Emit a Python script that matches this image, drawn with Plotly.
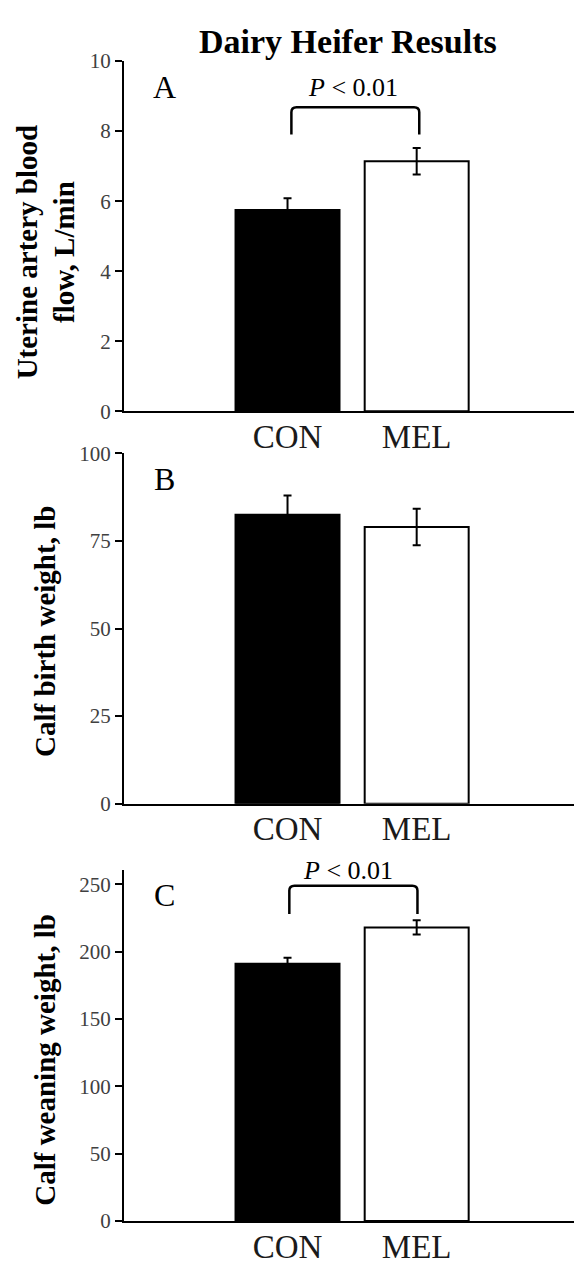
import plotly.graph_objects as go

# ---------------- data ----------------
groups = ["CON", "MEL"]
flow_mean = [5.75, 7.14]          # Uterine artery blood flow, L/min
flow_se = [0.33, 0.38]
birth_mean = [82.5, 79.0]         # Calf birth weight, lb
birth_se = [5.5, 5.2]
wean_mean = [191.0, 218.0]        # Calf weaning weight, lb
wean_se = [4.5, 5.3]
flow_ticks = [0, 2, 4, 6, 8, 10]
birth_ticks = [0, 25, 50, 75, 100]
wean_ticks = [0, 50, 100, 150, 200, 250]
bar_colors = ["black", "white"]
title_text = "Dairy Heifer Results"
panel_letters = ["A", "B", "C"]
y_titles = ["Uterine artery blood<br>flow, L/min", "Calf birth weight, lb", "Calf weaning weight, lb"]
p_label = "<i>P</i> < 0.01"

# ---------------- layout helpers ----------------
W, H = 574, 1265
SERIF = "Liberation Serif, Times New Roman, serif"


def py(p):
    return 1 - p / H


xpos = list(range(len(groups)))
x_range = [-1.266, 2.218]
x_domain = [124 / W, 1.0]

panels = [
    dict(mean=flow_mean, se=flow_se, ticks=flow_ticks, yr=[0, 10], dom=[py(407), py(50)]),
    dict(mean=birth_mean, se=birth_se, ticks=birth_ticks, yr=[0, 100], dom=[py(807), py(450)]),
    dict(mean=wean_mean, se=wean_se, ticks=wean_ticks, yr=[0, 260.4], dom=[py(1232.3), py(875)]),
]

fig = go.Figure()
layout = dict(
    width=W, height=H, margin=dict(l=0, r=0, t=0, b=0),
    plot_bgcolor="white", paper_bgcolor="white", showlegend=False,
    font=dict(family=SERIF, color="black"),
)

for i, p in enumerate(panels):
    n = "" if i == 0 else str(i + 1)
    fig.add_trace(go.Bar(
        x=xpos, y=p["mean"], width=0.805,
        marker=dict(color=bar_colors, line=dict(color="black", width=2)),
        error_y=dict(type="data", array=p["se"], color="black", thickness=2, width=4),
        xaxis="x" + n, yaxis="y" + n,
    ))
    layout["xaxis" + n] = dict(
        domain=x_domain, range=x_range, anchor="y" + n,
        tickvals=xpos, ticktext=groups, ticks="", ticklabelstandoff=-5,
        showline=True, linecolor="black", linewidth=2, showgrid=False, zeroline=False,
        tickfont=dict(family=SERIF, size=33, color="#1a1a1a"),
    )
    layout["yaxis" + n] = dict(
        domain=p["dom"], range=p["yr"], anchor="x" + n,
        tickvals=p["ticks"], ticks="outside", ticklen=7, tickwidth=2, tickcolor="black",
        showline=True, linecolor="black", linewidth=2, showgrid=False, zeroline=False,
        tickfont=dict(family=SERIF, size=21, color="#404040"),
    )

fig.update_layout(**layout)

ann = []
# main title
ann.append(dict(text="<b>" + title_text + "</b>", x=348 / W, y=py(30), xref="paper", yref="paper",
                showarrow=False, xanchor="center", yanchor="middle",
                font=dict(family=SERIF, size=34, color="black")))
# panel letters
for letter, yc in zip(panel_letters, [76.7, 476, 900]):
    ann.append(dict(text=letter, x=164 / W, y=py(yc), xref="paper", yref="paper",
                    showarrow=False, xanchor="center", yanchor="middle",
                    font=dict(family=SERIF, size=32, color="black")))
# y-axis titles
for t, xc, yc in zip(y_titles, [46, 45, 45], [245, 632, 1068]):
    ann.append(dict(text="<b>" + t + "</b>", x=xc / W, y=py(yc), xref="paper", yref="paper",
                    showarrow=False, textangle=-90, xanchor="center", yanchor="middle",
                    font=dict(family=SERIF, size=29, color="black")))
# significance labels
ann.append(dict(text=p_label, x=0.51, y=9.24, xref="x", yref="y", showarrow=False,
                xanchor="center", yanchor="middle", font=dict(family=SERIF, size=26, color="black")))
ann.append(dict(text=p_label, x=0.47, y=260.4, xref="x3", yref="y3", showarrow=False,
                xanchor="center", yanchor="middle", font=dict(family=SERIF, size=26, color="black")))
fig.update_layout(annotations=ann)


def bracket(xl, xr, yb, yt, dx, dy):
    return (f"M {xl},{yb} L {xl},{yt - dy} Q {xl},{yt} {xl + dx},{yt} "
            f"L {xr - dx},{yt} Q {xr},{yt} {xr},{yt - dy} L {xr},{yb}")


fig.add_shape(type="path", path=bracket(0.03, 1.02, 7.9, 8.68, 0.04, 0.14),
              xref="x", yref="y", line=dict(color="black", width=2.5))
fig.add_shape(type="path", path=bracket(0.014, 1.006, 228, 249, 0.04, 3.6),
              xref="x3", yref="y3", line=dict(color="black", width=2.5))

fig.write_html("out.html")
